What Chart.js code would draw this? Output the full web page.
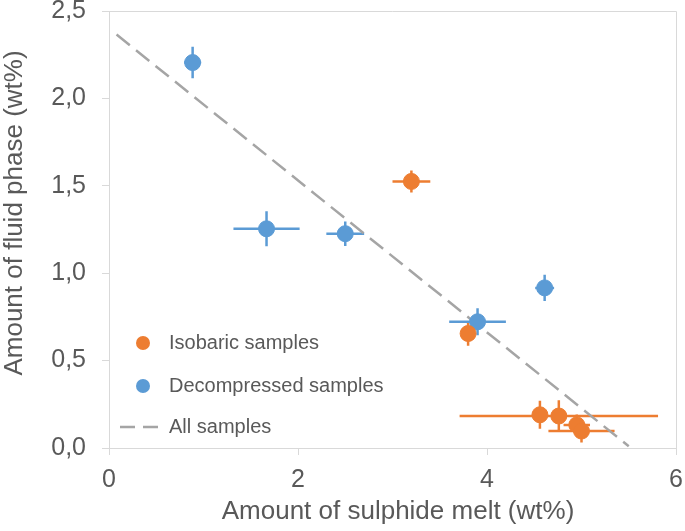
<!DOCTYPE html>
<html>
<head>
<meta charset="utf-8">
<script src="https://cdn.jsdelivr.net/npm/chart.js@4"></script>
<style>
  body { margin: 0; background: #fff; }
  #wrap { width: 685px; height: 531px; }
</style>
</head>
<body>
<div id="wrap"><canvas id="myChart" width="685" height="531"></canvas></div>
<script>
// Isobaric samples (x = sulphide melt, y = fluid phase, with errors)
const isoX = [3.2, 3.8, 4.56, 4.76, 4.95, 5.0];
const isoY = [1.525, 0.655, 0.19, 0.183, 0.132, 0.097];
const isoXErr = [0.2, 0.05, 0.05, 1.05, 0.14, 0.35];
const isoYErr = [0.063, 0.07, 0.08, 0.09, 0.06, 0.066];

// Decompressed samples
const decX = [0.885, 1.667, 2.5, 3.9, 4.61];
const decY = [2.205, 1.254, 1.226, 0.722, 0.916];
const decXErr = [0.09, 0.35, 0.2, 0.3, 0.1];
const decYErr = [0.09, 0.1, 0.07, 0.077, 0.075];

// All samples trend line
const trendX = [0.08, 5.5];
const trendY = [2.365, 0.01];

const xTicks = [0, 2, 4, 6];
const yTicks = [0, 0.5, 1, 1.5, 2, 2.5];

const xTitle = "Amount of sulphide melt (wt%)";
const yTitle = "Amount of fluid phase (wt%)";

const FONT = '"Liberation Sans", Arial, sans-serif';
const TXT = "#595959";
const AXIS = "#d9d9d9";
const ORANGE = "#ed7d31";
const BLUE = "#5b9bd5";
const GREY = "#a5a5a5";

function pts(xs, ys) {
  return xs.map((v, i) => ({ x: v, y: ys[i] }));
}

// draw x / y error bars from the dataset's xErr / yErr arrays
const errorBars = {
  id: "errorBars",
  beforeDatasetsDraw(chart) {
    const ctx = chart.ctx;
    const x = chart.scales.x, y = chart.scales.y;
    chart.data.datasets.forEach((ds) => {
      if (!ds.xErr) return;
      ctx.save();
      ctx.strokeStyle = ds.backgroundColor;
      ctx.lineWidth = 2.5;
      ds.data.forEach((p, i) => {
        const px = x.getPixelForValue(p.x);
        const py = y.getPixelForValue(p.y);
        ctx.beginPath();
        ctx.moveTo(x.getPixelForValue(p.x - ds.xErr[i]), py);
        ctx.lineTo(x.getPixelForValue(p.x + ds.xErr[i]), py);
        ctx.moveTo(px, y.getPixelForValue(p.y - ds.yErr[i]));
        ctx.lineTo(px, y.getPixelForValue(p.y + ds.yErr[i]));
        ctx.stroke();
      });
      ctx.restore();
    });
  }
};

// frame, axis titles and the legend inside the plot
const decor = {
  id: "decor",
  afterDraw(chart) {
    const ctx = chart.ctx;
    const a = chart.chartArea;
    ctx.save();
    ctx.strokeStyle = AXIS;
    ctx.lineWidth = 1;
    ctx.beginPath();
    ctx.moveTo(a.left, a.top + 0.5);
    ctx.lineTo(a.right + 0.5, a.top + 0.5);
    ctx.lineTo(a.right + 0.5, a.bottom);
    ctx.stroke();

    ctx.fillStyle = TXT;
    ctx.font = "26px " + FONT;
    ctx.textAlign = "center";
    ctx.textBaseline = "middle";
    ctx.fillText(xTitle, 398, 512);
    ctx.save();
    ctx.translate(15, 213);
    ctx.rotate(-Math.PI / 2);
    ctx.fillText(yTitle, 0, 0);
    ctx.restore();

    // legend
    const rows = [343, 386, 427];
    ctx.font = "20px " + FONT;
    ctx.textAlign = "left";
    chart.data.datasets.forEach((ds, i) => {
      const ly = rows[i];
      if (ds.showLine) {
        ctx.strokeStyle = ds.borderColor;
        ctx.lineWidth = 2.5;
        ctx.setLineDash([15, 8]);
        ctx.beginPath();
        ctx.moveTo(120, ly);
        ctx.lineTo(158, ly);
        ctx.stroke();
        ctx.setLineDash([]);
      } else {
        ctx.fillStyle = ds.backgroundColor;
        ctx.beginPath();
        ctx.arc(143, ly, 7, 0, Math.PI * 2);
        ctx.fill();
      }
      ctx.fillStyle = TXT;
      ctx.fillText(ds.label, 169, ly);
    });
    ctx.restore();
  }
};

var ctx = document.getElementById("myChart").getContext("2d");
var chart = new Chart(ctx, {
  type: "scatter",
  data: {
    datasets: [
      {
        label: "Isobaric samples",
        data: pts(isoX, isoY),
        xErr: isoXErr,
        yErr: isoYErr,
        backgroundColor: ORANGE,
        borderColor: ORANGE,
        pointRadius: 8,
        pointBorderWidth: 1,
        order: 0
      },
      {
        label: "Decompressed samples",
        data: pts(decX, decY),
        xErr: decXErr,
        yErr: decYErr,
        backgroundColor: BLUE,
        borderColor: BLUE,
        pointRadius: 8,
        pointBorderWidth: 1,
        order: 1
      },
      {
        label: "All samples",
        data: pts(trendX, trendY),
        showLine: true,
        borderColor: GREY,
        backgroundColor: GREY,
        borderWidth: 2.5,
        borderDash: [17, 8],
        pointRadius: 0,
        order: 2
      }
    ]
  },
  options: {
    responsive: false,
    animation: false,
    events: [],
    layout: { padding: { top: 11, right: 7, left: 0, bottom: 0 } },
    scales: {
      x: {
        type: "linear",
        min: 0,
        max: 6,
        afterBuildTicks: (s) => { s.ticks = xTicks.map((v) => ({ value: v })); },
        afterFit: (s) => { s.height = 83; s.paddingLeft = 0; s.paddingRight = 0; },
        grid: { drawOnChartArea: false, tickLength: 7, color: AXIS },
        border: { color: AXIS },
        ticks: {
          padding: 10,
          color: TXT,
          font: { family: FONT, size: 25 },
          maxRotation: 0
        }
      },
      y: {
        type: "linear",
        min: 0,
        max: 2.5,
        afterBuildTicks: (s) => { s.ticks = yTicks.map((v) => ({ value: v })); },
        afterFit: (s) => { s.width = 109; s.paddingTop = 0; s.paddingBottom = 0; },
        grid: { drawOnChartArea: false, tickLength: 7, color: AXIS },
        border: { color: AXIS },
        ticks: {
          padding: 16,
          color: TXT,
          font: { family: FONT, size: 25 },
          callback: (v) => v.toFixed(1).replace(".", ",")
        }
      }
    },
    plugins: {
      legend: { display: false },
      tooltip: { enabled: false }
    }
  },
  plugins: [errorBars, decor]
});
</script>
</body>
</html>
